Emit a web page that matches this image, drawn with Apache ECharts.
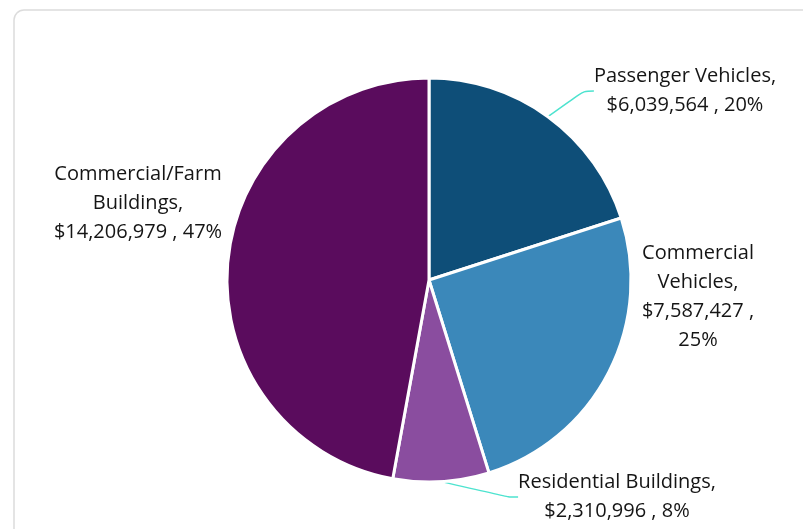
<!DOCTYPE html>
<html lang="en">
<head>
    <meta charset="UTF-8">
    <title>Insured Values</title>
    <script src="https://cdn.jsdelivr.net/npm/echarts@6/dist/echarts.min.js"></script>
    <style>
        html, body { margin: 0; padding: 0; background: #ffffff; }
        #main { width: 803px; height: 529px; }
    </style>
</head>
<body>
<div id="main"></div>
<script type="text/javascript">
    // data
    var categories = ['Passenger Vehicles', 'Commercial Vehicles', 'Residential Buildings', 'Commercial/Farm Buildings'];
    var values = [6039564, 7587427, 2310996, 14206979];
    var colors = ['#0e4e78', '#3b88ba', '#8a4d9f', '#5a0c5d'];

    // where each label block sits (center x, top y) and whether it has a leader line
    var labelPos = [[685, 62], [698, 239], [617, 468], [138, 160]];
    var hasLine = [true, false, true, false];

    function money(v) {
        return '$' + v.toString().replace(/\B(?=(\d{3})+(?!\d))/g, ',');
    }

    function labelText(p) {
        var m = money(p.value), pct = p.percent + '%';
        switch (p.dataIndex) {
            case 0: return p.name + ',\n' + m + ' , ' + pct;
            case 1: return 'Commercial\nVehicles,\n' + m + ' ,\n' + pct;
            case 2: return p.name + ',\n' + m + ' , ' + pct;
            default: return 'Commercial/Farm\nBuildings,\n' + m + ' , ' + pct;
        }
    }

    var pieData = categories.map(function (c, i) {
        return {
            name: c,
            value: values[i],
            itemStyle: { color: colors[i] },
            labelLine: { show: hasLine[i] }
        };
    });

    var myChart = echarts.init(document.getElementById('main'));
    var option = {
        animation: false,
        backgroundColor: '#ffffff',
        graphic: [{
            type: 'rect',
            shape: { x: 14, y: 10, width: 800, height: 530, r: 10 },
            style: { fill: 'none', stroke: '#dcdcdc', lineWidth: 1.5 },
            z: -1
        }],
        series: [{
            type: 'pie',
            center: [429, 280],
            radius: [0, 202],
            startAngle: 90,
            clockwise: true,
            percentPrecision: 0,
            itemStyle: { borderColor: '#ffffff', borderWidth: 3 },
            label: {
                show: true,
                position: 'outside',
                formatter: labelText,
                fontFamily: 'Open Sans',
                fontSize: 20,
                lineHeight: 29,
                color: '#151515',
                align: 'center'
            },
            labelLine: {
                show: true,
                length: 10,
                length2: 10,
                smooth: true,
                lineStyle: { color: '#4de3cf', width: 1.5 }
            },
            labelLayout: function (params) {
                var p = labelPos[params.dataIndex];
                return { x: p[0], y: p[1], align: 'center', verticalAlign: 'top' };
            },
            emphasis: { disabled: true },
            data: pieData
        }]
    };
    myChart.setOption(option);
</script>
</body>
</html>
